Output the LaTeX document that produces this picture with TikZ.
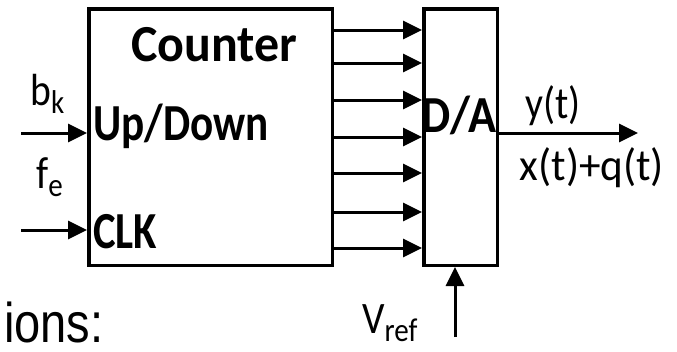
\documentclass[tikz,border=0pt]{standalone}
\usepackage{fontspec}
\setmainfont{Carlito}
\newfontfamily\arialf{Liberation Sans}
\usetikzlibrary{arrows.meta}
\newcommand\mysub[1]{\raisebox{-0.4ex}{\fontsize{33}{33}\selectfont #1}}
\newcommand\nx[1]{\scalebox{0.88}[1]{#1}}
\begin{document}
\begin{tikzpicture}[x=1pt,y=-1pt,
  blk/.style={draw=black,line width=3.5pt,minimum width=#1,inner sep=0pt,minimum height=256.5pt},
  arr/.style={line width=3pt,-{Triangle[length=19pt,width=18pt]}},
  bold/.style={font=\fontsize{52}{52}\selectfont\bfseries,inner sep=0pt},
  lbl/.style={font=\fontsize{45}{45}\selectfont,inner sep=0pt}]
\useasboundingbox (0,0) rectangle (677,351);
\node[blk=243.5pt] (cnt) at (210.5,137) {};
\node[blk=73.5pt] (da) at (460.5,137) {};
\node[bold,anchor=base] (ctitle) at (214,61) {\scalebox{0.96}[1]{Counter}};
\node[bold,anchor=base west] (ud) at (93,140) {\scalebox{0.83}[1]{Up/Down}};
\node[bold,anchor=base west] (clk) at (93,248) {\scalebox{0.82}[1]{CLK}};
\node[bold,anchor=base] (dalbl) at (459,132) {\scalebox{0.89}[1]{D/A}};
\foreach \i/\yy in {1/30,2/63,3/100,4/137,5/173,6/212,7/248}{
  \coordinate (s\i) at (cnt.east |- 0,\yy);
  \draw[arr] (s\i) -- (s\i -| da.west);
}
\coordinate (bin) at (21,133);
\coordinate (fin) at (21,230);
\draw[arr] (bin) -- (bin -| cnt.west);
\draw[arr] (fin) -- (fin -| cnt.west);
\coordinate (yout) at (638,133);
\draw[arr] (da.east |- yout) -- (yout);
\coordinate (vin) at (455,337);
\draw[arr] (vin) -- (vin |- da.south);
\node[lbl,anchor=base west] (bk) at (30,105) {\nx{b\mysub{k}}};
\node[lbl,anchor=base west] (fe) at (36,188) {\nx{f\mysub{e}}};
\node[lbl,anchor=base] (yt) at (553,118) {\nx{y(t)}};
\node[lbl,anchor=base] (xq) at (592,180) {\scalebox{0.96}[1]{x(t)+q(t)}};
\node[lbl,anchor=base west] (vref) at (362,333) {\nx{V\mysub{ref}}};
\node[font=\arialf\fontsize{56}{56}\selectfont,inner sep=0pt,anchor=base west] (ions) at (4,342) {\scalebox{0.84}[1]{ions:}};
\end{tikzpicture}
\end{document}
